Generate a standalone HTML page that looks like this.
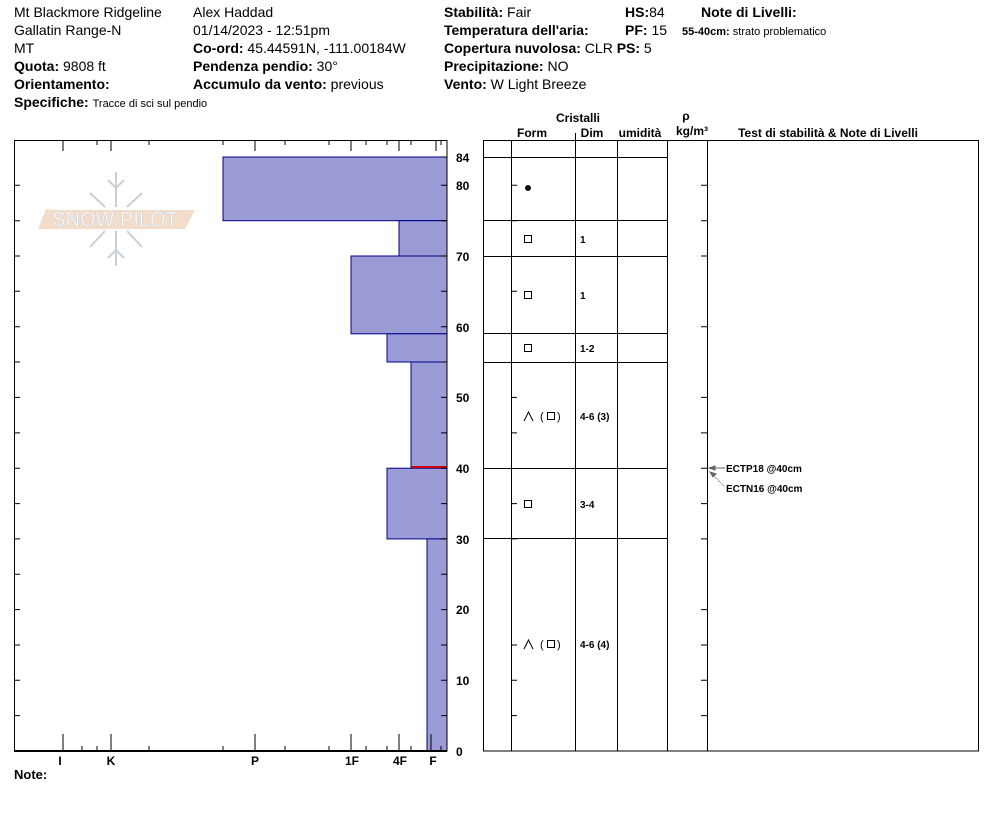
<!DOCTYPE html>
<html><head><meta charset="utf-8"><style>
body{margin:0;background:#fff;}
svg{display:block;font-family:"Liberation Sans",Arial,sans-serif;}
.b{font-weight:bold}
</style></head><body>
<svg width="994" height="840" viewBox="0 0 994 840" xmlns="http://www.w3.org/2000/svg">
<g font-size="14" fill="#000">
<text x="14" y="17">Mt Blackmore Ridgeline</text>
<text x="14" y="35">Gallatin Range-N</text>
<text x="14" y="53">MT</text>
<text x="14" y="71"><tspan class="b">Quota:</tspan> 9808 ft</text>
<text x="14" y="89" class="b">Orientamento:</text>
<text x="14" y="107"><tspan class="b">Specifiche:</tspan> <tspan font-size="11">Tracce di sci sul pendio</tspan></text>
<text x="193" y="17">Alex Haddad</text>
<text x="193" y="35">01/14/2023 - 12:51pm</text>
<text x="193" y="53"><tspan class="b">Co-ord:</tspan> 45.44591N, -111.00184W</text>
<text x="193" y="71"><tspan class="b">Pendenza pendio:</tspan> 30°</text>
<text x="193" y="89"><tspan class="b">Accumulo da vento:</tspan> previous</text>
<text x="444" y="17"><tspan class="b">Stabilità:</tspan> Fair</text>
<text x="444" y="35" class="b">Temperatura dell'aria:</text>
<text x="444" y="53"><tspan class="b">Copertura nuvolosa:</tspan> CLR <tspan class="b">PS:</tspan> 5</text>
<text x="444" y="71"><tspan class="b">Precipitazione:</tspan> NO</text>
<text x="444" y="89"><tspan class="b">Vento:</tspan>  W Light Breeze</text>
<text x="625" y="17"><tspan class="b">HS:</tspan>84</text>
<text x="625" y="35"><tspan class="b">PF:</tspan> 15</text>
<text x="701" y="17" class="b">Note di Livelli:</text>
<text x="682" y="35" font-size="11"><tspan class="b">55-40cm:</tspan> strato problematico</text>
</g>
<g font-size="12" font-weight="bold" text-anchor="middle">
<text x="578" y="122">Cristalli</text>
<text x="532" y="137">Form</text>
<text x="592" y="137">Dim</text>
<text x="640" y="137">umidità</text>
<text x="686" y="120">ρ</text>
<text x="692" y="135">kg/m³</text>
<text x="828" y="137">Test di stabilità &amp; Note di Livelli</text>
</g>
<!-- logo -->
<g opacity="0.9">
<polygon points="46,209 58,210 195,210 185,229 38,229" fill="#f2d9c3"/>
<text x="115" y="226" text-anchor="middle" font-size="20" fill="#fff" stroke="#c8d0d6" stroke-width="0.6">SNOW PILOT</text>
<g stroke="#c3ccd3" stroke-width="2" fill="none">
<line x1="116" y1="172" x2="116" y2="207"/><line x1="116" y1="231" x2="116" y2="266"/>
<line x1="90" y1="193" x2="105" y2="207"/><line x1="142" y1="193" x2="127" y2="207"/>
<line x1="90" y1="247" x2="105" y2="231"/><line x1="142" y1="247" x2="127" y2="231"/>
<polyline points="108,180 116,188 124,180"/><polyline points="108,258 116,250 124,258"/>
</g></g>
<!-- bars -->
<g fill="#9b9bd6" stroke="#00008b" stroke-width="1">
<rect x="223" y="157" width="224" height="63.7"/>
<rect x="399" y="220.7" width="48" height="35.3"/>
<rect x="351" y="256" width="96" height="77.8"/>
<rect x="387" y="333.8" width="60" height="28.2"/>
<rect x="411" y="362" width="36" height="106.2"/>
<rect x="387" y="468.2" width="60" height="70.7"/>
<rect x="427" y="538.9" width="20" height="212.1"/>
</g>
<line x1="411" y1="467" x2="447" y2="467" stroke="#d00000" stroke-width="2"/>
<!-- left chart frame -->
<g stroke="#000" stroke-width="1" fill="none">
<rect x="14.5" y="140.5" width="432.5" height="610.5"/>
<line x1="14" y1="751" x2="447" y2="751" stroke-width="2"/>
<path d="M63,140v11M97,140v5M111,140v11M149,140v5M223,140v5M255,140v11M285,140v5M329,140v5M351,140v11M366,140v5M387,140v5M399,140v11M411,140v5M436,140v11M441,140v5"/>
<path d="M63,751v-17M82,751v-5M97,751v-5M111,751v-17M149,751v-5M223,751v-5M255,751v-17M285,751v-5M329,751v-5M351,751v-17M366,751v-5M387,751v-5M399,751v-17M411,751v-5M431,751v-17M441,751v-5"/>
<path d="M14,715.6h6M14,680.3h6M14,645h6M14,609.6h6M14,574.2h6M14,538.9h6M14,503.6h6M14,468.2h6M14,432.9h6M14,397.4h6M14,362h6M14,326.7h6M14,291.3h6M14,256h6M14,220.7h6M14,185.3h6"/>
<path d="M441,715.6h6M441,680.3h6M441,645h6M441,609.6h6M441,574.2h6M441,538.9h6M441,503.6h6M441,468.2h6M441,432.9h6M441,397.4h6M441,362h6M441,326.7h6M441,291.3h6M441,256h6M441,220.7h6M441,185.3h6M441,157h6"/>
</g>
<g font-size="12" font-weight="bold" text-anchor="middle">
<text x="60" y="765">I</text><text x="111" y="765">K</text><text x="255" y="765">P</text>
<text x="352" y="765">1F</text><text x="400" y="765">4F</text><text x="433" y="765">F</text>
</g>
<text x="14" y="779" font-size="13" font-weight="bold">Note:</text>
<g font-size="12" font-weight="bold">
<text x="456" y="162">84</text><text x="456" y="190">80</text><text x="456" y="261">70</text>
<text x="456" y="332">60</text><text x="456" y="402">50</text><text x="456" y="473">40</text>
<text x="456" y="544">30</text><text x="456" y="614">20</text><text x="456" y="685">10</text>
<text x="456" y="756">0</text>
</g>
<!-- right table -->
<g stroke="#000" stroke-width="1" fill="none">
<rect x="483.5" y="140.5" width="495" height="610.5"/>
<path d="M511.5,140v611M575.5,140v611M617.5,140v611M667.5,140v611M707.5,140v611"/>
<path d="M575.5,133v7"/>
<path d="M483,157.5h184M483,220.5h184M483,256.5h184M483,333.5h184M483,362.5h184M483,468.5h184M483,538.5h184"/>
<path d="M511,185.3h6M511,220.7h6M511,291.3h6M511,397.4h6M511,432.9h6M511,503.6h6M511,538.9h6M511,645h6M511,680.3h6M511,715.6h6"/>
<path d="M701,185.3h6M701,220.7h6M701,256h6M701,326.7h6M701,397.4h6M701,432.9h6M701,468.2h6M701,503.6h6M701,538.9h6M701,609.6h6M701,645h6M701,680.3h6M701,715.6h6"/>
</g>
<circle cx="528" cy="188" r="3" fill="#000"/>
<g fill="none" stroke="#000" stroke-width="1">
<rect x="524.5" y="235.5" width="7" height="7"/>
<rect x="524.5" y="291.5" width="7" height="7"/>
<rect x="524.5" y="344.5" width="7" height="7"/>
<rect x="547.5" y="412.5" width="7" height="7"/>
<rect x="524.5" y="500.5" width="7" height="7"/>
<rect x="547.5" y="640.5" width="7" height="7"/>
<polyline points="524,421 528.5,412 533,421"/>
<polyline points="524,649 528.5,640 533,649"/>
</g>
<g font-size="11">
<text x="540" y="420">(</text><text x="557" y="420">)</text>
<text x="540" y="648">(</text><text x="557" y="648">)</text>
</g>
<g font-size="10" font-weight="bold">
<text x="580" y="243">1</text><text x="580" y="299">1</text><text x="580" y="352">1-2</text>
<text x="580" y="420">4-6 (3)</text><text x="580" y="508">3-4</text><text x="580" y="648">4-6 (4)</text>
<text x="726" y="472">ECTP18 @40cm</text>
<text x="726" y="492">ECTN16 @40cm</text>
</g>
<g stroke="#666" stroke-width="1" fill="#666">
<line x1="712" y1="468" x2="725" y2="468"/>
<polygon points="709,468 715,466 715,470"/>
<line x1="712" y1="474" x2="725" y2="487" stroke-dasharray="1,1"/>
<polygon points="710,472 716,474 713,477"/>
</g>
</svg>
</body></html>
